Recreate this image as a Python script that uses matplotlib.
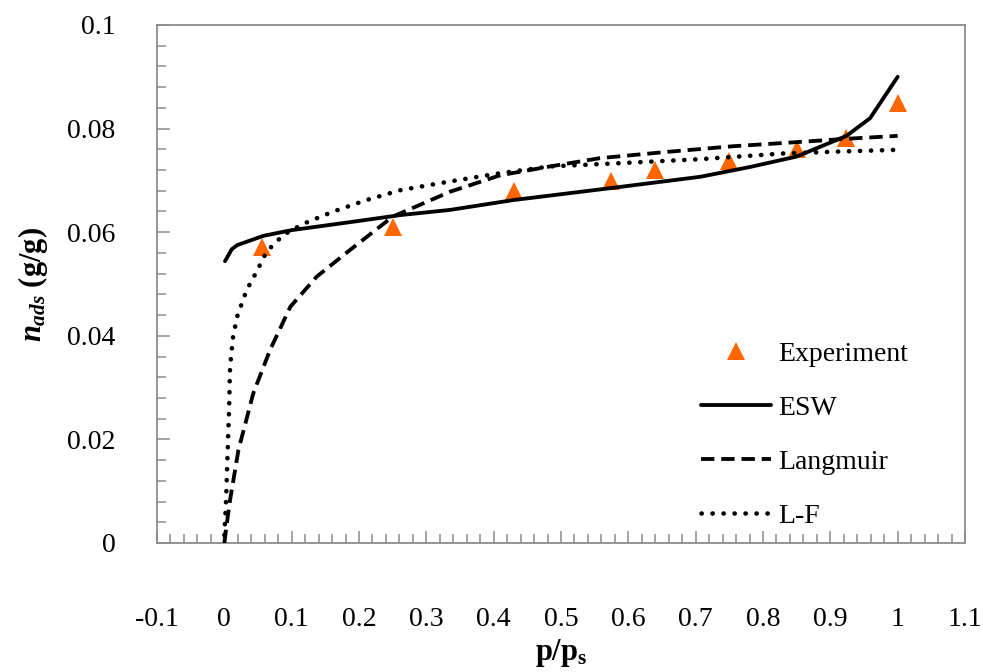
import matplotlib
matplotlib.use("Agg")
import matplotlib.pyplot as plt
from matplotlib.ticker import MultipleLocator

plt.rcParams['font.family'] = ['Liberation Serif', 'DejaVu Serif']
plt.rcParams['mathtext.fontset'] = 'custom'
plt.rcParams['mathtext.rm'] = 'Liberation Serif:bold'
plt.rcParams['mathtext.bf'] = 'Liberation Serif:bold'
plt.rcParams['mathtext.it'] = 'Liberation Serif:bold:italic'

# Experimental data
exp_x = [0.0555, 0.25, 0.43, 0.574, 0.640, 0.749, 0.850, 0.924, 1.0]
exp_y = [0.0572, 0.0610, 0.0679, 0.0698, 0.0720, 0.0738, 0.0760, 0.0781, 0.0849]

# ESW model
esw_x = [0.001, 0.011, 0.019, 0.058, 0.10, 0.19, 0.261, 0.335, 0.429, 0.573,
         0.707, 0.781, 0.85, 0.924, 0.959, 1.0]
esw_y = [0.0544, 0.0567, 0.0575, 0.0593, 0.0604, 0.0620, 0.0633, 0.0643, 0.0662,
         0.0685, 0.0707, 0.0726, 0.0746, 0.0786, 0.0820, 0.0900]

# Langmuir model
lang_x = [0.0, 0.005, 0.0085, 0.021, 0.043, 0.068, 0.098, 0.137, 0.187, 0.25,
          0.335, 0.41, 0.484, 0.558, 0.657, 0.756, 0.84, 0.92, 1.0]
lang_y = [0.0, 0.0050, 0.0083, 0.0180, 0.0289, 0.0373, 0.0456, 0.0514, 0.0566,
          0.0630, 0.0678, 0.0710, 0.0727, 0.0743, 0.0755, 0.0766, 0.0773, 0.0780, 0.0786]

# L-F model
lf_x = [0.0, 0.0025, 0.0045, 0.007, 0.0085, 0.013, 0.019, 0.033, 0.048, 0.063,
        0.088, 0.117, 0.162, 0.211, 0.261, 0.335, 0.41, 0.484, 0.583, 0.707,
        0.83, 0.92, 1.0]
lf_y = [0.0015, 0.0080, 0.0160, 0.0257, 0.0340, 0.0398, 0.0437, 0.0488, 0.0524,
        0.0563, 0.0595, 0.0616, 0.0640, 0.0662, 0.0681, 0.0698, 0.0714, 0.0727,
        0.0733, 0.0741, 0.0752, 0.0756, 0.0759]

fig = plt.figure(figsize=(9.83, 6.72), dpi=100)
ax = fig.add_axes([157/983, 1 - 543/672, (965 - 157)/983, (543 - 25)/672])

lw = 2.75
ax.plot(exp_x, exp_y, linestyle='none', marker='^', markersize=12.5,
        color='#FF6600', markeredgewidth=0, label='Experiment', zorder=2)
ax.plot(esw_x, esw_y, color='black', linewidth=lw, label='ESW', zorder=3,
        solid_capstyle='round', solid_joinstyle='round')
ax.plot(lang_x, lang_y, color='black', linewidth=lw, dashes=(3.5, 1.8),
        label='Langmuir', zorder=3)
ax.plot(lf_x, lf_y, color='black', linewidth=3.3, dashes=(0.05, 2.35),
        dash_capstyle='round', label='L-F', zorder=3)

ax.set_xlim(-0.1, 1.1)
ax.set_ylim(0, 0.1)
ax.xaxis.set_major_locator(MultipleLocator(0.1))
ax.xaxis.set_minor_locator(MultipleLocator(0.02))
ax.yaxis.set_major_locator(MultipleLocator(0.02))
ax.yaxis.set_minor_locator(MultipleLocator(0.004))

xt = [-0.1, 0, 0.1, 0.2, 0.3, 0.4, 0.5, 0.6, 0.7, 0.8, 0.9, 1, 1.1]
xl = ['-0.1', '0', '0.1', '0.2', '0.3', '0.4', '0.5', '0.6', '0.7', '0.8', '0.9', '1', '1.1']
yt = [0, 0.02, 0.04, 0.06, 0.08, 0.1]
yl = ['0', '0.02', '0.04', '0.06', '0.08', '0.1']
ax.set_xticks(xt)
ax.set_xticklabels(xl)
ax.set_yticks(yt)
ax.set_yticklabels(yl)

gray = '#8c8c8c'
for s in ax.spines.values():
    s.set_color(gray)
    s.set_linewidth(1.3)

ax.tick_params(axis='both', which='both', direction='in', color=gray, width=1.1,
               labelsize=20, top=False, right=False)
ax.tick_params(axis='both', which='major', length=9)
ax.tick_params(axis='both', which='minor', length=6.7)
ax.tick_params(axis='x', which='major', pad=46)
ax.tick_params(axis='y', which='major', pad=30)

ax.set_xlabel(r'p/p$_\mathbf{s}$', fontsize=22, fontweight='bold', labelpad=4)
ax.set_ylabel(r'$n_{ads}$ (g/g)', fontsize=22, fontweight='bold', labelpad=12)

leg = ax.legend(loc='upper left', bbox_to_anchor=(0.66, 0.41), frameon=False,
                fontsize=20, handlelength=2.5, handletextpad=0.25,
                labelspacing=1.02, borderaxespad=0)

fig.savefig('out.png', dpi=100)
